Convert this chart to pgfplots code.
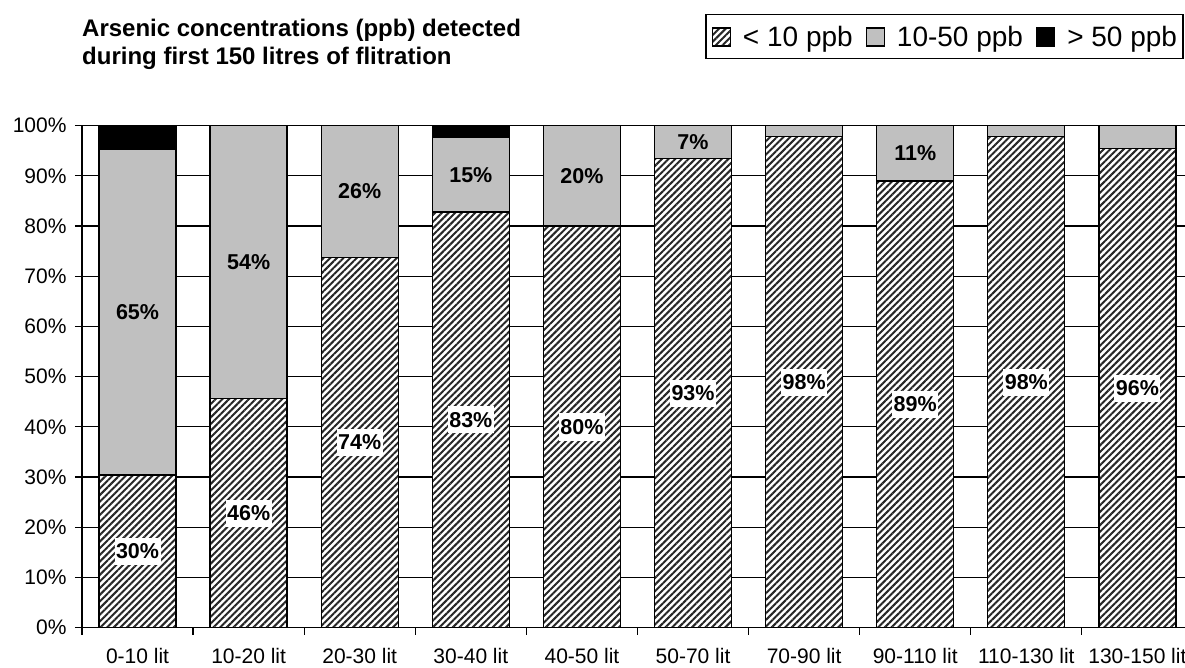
\documentclass[border=0pt]{standalone}
\usepackage{fontspec}
\setmainfont{Liberation Sans}
\usepackage{pgfplots}
\usepackage{pgfplotstable}
\pgfplotsset{compat=1.18}
\usetikzlibrary{patterns.meta}
\definecolor{midgray}{RGB}{192,192,192}

\pgfplotstableread{
x low mid high
0 30.4 64.9 4.7
1 45.6 54.4 0
2 73.8 26.2 0
3 82.8 14.8 2.4
4 80.0 20.0 0
5 93.4 6.6 0
6 97.8 2.2 0
7 89.0 11.0 0
8 97.8 2.2 0
9 95.4 4.6 0
}\data

\pgfplotstableread{
x y l
0 15.2 30
1 22.8 46
2 36.9 74
3 41.4 83
4 40.0 80
5 46.7 93
6 48.9 98
7 44.5 89
8 48.9 98
9 47.7 96
}\lowlabels

\pgfplotstableread{
x y l
0 62.85 65
1 72.8 54
2 86.9 26
3 90.2 15
4 90.0 20
5 96.7 7
7 94.5 11
}\midlabels

\begin{document}
\begin{tikzpicture}
\path[use as bounding box] (0,0) rectangle (1185bp,668bp);

\node[anchor=base west, inner sep=0pt, font=\bfseries\fontsize{24bp}{28bp}\selectfont] at (82bp,631.3bp) {Arsenic concentrations (ppb) detected};
\node[anchor=base west, inner sep=0pt, font=\bfseries\fontsize{24bp}{28bp}\selectfont] at (82bp,603.3bp) {during first 150 litres of flitration};

\begin{axis}[
  at={(82bp,40.3bp)}, anchor=south west,
  scale only axis, width=1111bp, height=502bp,
  xmin=-0.5, xmax=9.5, ymin=0, ymax=100,
  ybar stacked, bar width=77bp,
  axis lines*=left,
  axis line style={line width=1.2bp, black},
  ymajorgrids, grid style={black, line width=1.2bp},
  tick style={black, line width=1.2bp},
  tick align=outside, major tick length=7bp,
  ytick={0,10,...,100},
  yticklabel={\pgfmathprintnumber{\tick}\%},
  /pgf/number format/assume math mode=true,
  yticklabel style={xshift=-5bp},
  xtick={-0.5,0.5,...,9.5}, xticklabels={},
  extra x ticks={0,1,2,3,4,5,6,7,8,9},
  extra x tick labels={0-10 lit,10-20 lit,20-30 lit,30-40 lit,40-50 lit,50-70 lit,70-90 lit,90-110 lit,110-130 lit,130-150 lit},
  extra x tick style={major tick length=0pt, grid=none, xticklabel style={yshift=-17bp}},
  ticklabel style={font=\fontsize{21bp}{25bp}\selectfont},
  legend columns=3,
  legend style={at={(0.5608,1.2225)}, anchor=north west, draw=black, line width=1.5bp,
    font=\fontsize{28bp}{32bp}\selectfont, inner xsep=6bp, inner ysep=11bp,
    nodes={inner sep=0pt},
    cells={anchor=base west},
    /tikz/every odd column/.append style={column sep=12bp},
    /tikz/every even column/.append style={column sep=13bp}},
  legend image code/.code={\draw[#1, line width=1.2bp] (0bp,0bp) rectangle (18bp,18bp);},
]
\addplot[draw=black, line width=1.3bp, preaction={fill=white}, pattern={Lines[angle=45,distance=4.7bp,line width=2bp]}, pattern color=black!85] table[x=x,y=low] {\data};
\addplot[draw=black, line width=1.3bp, fill=midgray] table[x=x,y=mid] {\data};
\addplot[draw=black, line width=1.3bp, fill=black] table[x=x,y=high] {\data};
\legend{< 10 ppb, 10-50 ppb, > 50 ppb}
\end{axis}

\begin{axis}[
  at={(82bp,40.3bp)}, anchor=south west,
  scale only axis, width=1111bp, height=502bp,
  xmin=-0.5, xmax=9.5, ymin=0, ymax=100,
  hide axis, clip=false,
]
\addplot[draw=none, mark=none, point meta=explicit symbolic,
  nodes near coords={\pgfplotspointmeta\%},
  every node near coord/.append style={anchor=center, fill=white, inner xsep=1.5bp, inner ysep=6bp,
    font=\bfseries\fontsize{21.5bp}{25bp}\selectfont}]
  table[x=x,y=y,meta=l] {\lowlabels};
\addplot[draw=none, mark=none, point meta=explicit symbolic,
  nodes near coords={\pgfplotspointmeta\%},
  every node near coord/.append style={anchor=center, inner xsep=1.5bp, inner ysep=6bp,
    font=\bfseries\fontsize{21.5bp}{25bp}\selectfont}]
  table[x=x,y=y,meta=l] {\midlabels};
\end{axis}
\end{tikzpicture}
\end{document}
